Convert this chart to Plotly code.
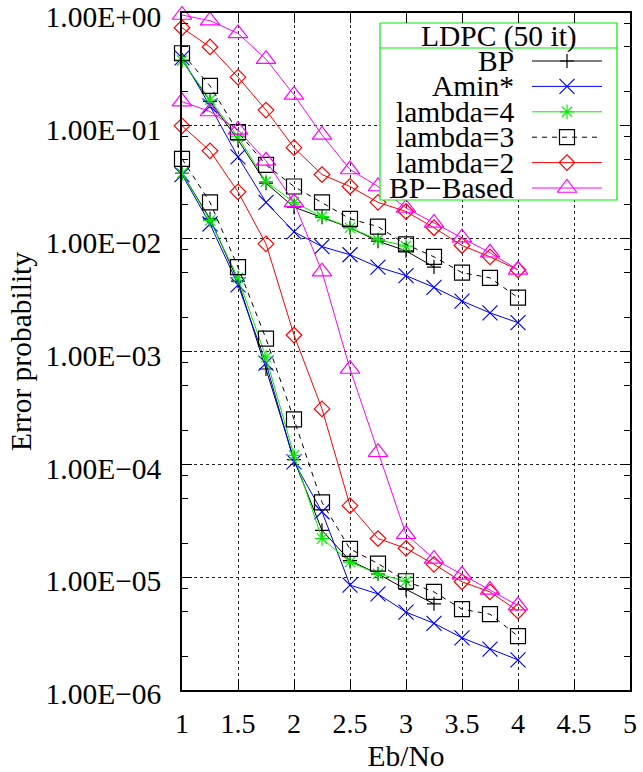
import plotly.graph_objects as go

# ---------------- data ----------------
ebno = [1, 1.25, 1.5, 1.75, 2, 2.25, 2.5, 2.75, 3, 3.25, 3.5, 3.75, 4]

bp_upper = [0.38, 0.165, 0.075, 0.031, 0.019, 0.0155, 0.0125, 0.0095, 0.0078, 0.0056]
bp_lower = [0.038, 0.015, 0.0042, 7.0e-4, 1.1e-4, 2.6e-5, 1.4e-5, 1.07e-5, 7.8e-6, 5.8e-6]

amin_upper = [0.40, 0.15, 0.053, 0.021, 0.0115, 0.0085, 0.0072, 0.0056, 0.0047, 0.0037, 0.0028, 0.0022, 0.0018]
amin_lower = [0.037, 0.0135, 0.0039, 7.9e-4, 1.05e-4, 3.8e-5, 8.5e-6, 7.1e-6, 4.9e-6, 3.9e-6, 2.9e-6, 2.3e-6, 1.85e-6]

l4_upper = [0.38, 0.17, 0.080, 0.032, 0.021, 0.0157, 0.0125, 0.0098, 0.0086]
l4_lower = [0.038, 0.0145, 0.0045, 8.9e-4, 1.2e-4, 2.2e-5, 1.36e-5, 1.07e-5, 9.2e-6]

l3_upper = [0.44, 0.226, 0.088, 0.045, 0.029, 0.021, 0.015, 0.0128, 0.0089, 0.0069, 0.0050, 0.0045, 0.0030]
l3_lower = [0.051, 0.021, 0.0056, 1.3e-3, 2.5e-4, 4.6e-5, 1.78e-5, 1.32e-5, 9.2e-6, 7.4e-6, 5.2e-6, 4.7e-6, 3.0e-6]

l2_upper = [0.74, 0.50, 0.27, 0.138, 0.064, 0.037, 0.029, 0.021, 0.0174, 0.0125, 0.0087, 0.0069, 0.0053]
l2_lower = [0.100, 0.060, 0.026, 0.0090, 0.0014, 3.1e-4, 4.3e-5, 2.2e-5, 1.8e-5, 1.3e-5, 9.1e-6, 7.4e-6, 5.0e-6]

bpb_upper = [0.96, 0.855, 0.66, 0.39, 0.188, 0.083, 0.041, 0.029, 0.0187, 0.0138, 0.0102, 0.0075, 0.0053]
bpb_lower = [0.164, 0.134, 0.092, 0.049, 0.021, 0.0051, 7.0e-4, 1.28e-4, 2.4e-5, 1.45e-5, 1.05e-5, 7.7e-6, 5.6e-6]

series_names = ["BP", "Amin*", "lambda=4", "lambda=3", "lambda=2", "BP\u2212Based"]
legend_title = "LDPC (50 it)"

x_tickvals = [1, 1.5, 2, 2.5, 3, 3.5, 4, 4.5, 5]
x_ticktext = ["1", "1.5", "2", "2.5", "3", "3.5", "4", "4.5", "5"]
y_tickvals = [1, 1e-1, 1e-2, 1e-3, 1e-4, 1e-5, 1e-6]
y_ticktext = ["1.00E+00", "1.00E\u221201", "1.00E\u221202", "1.00E\u221203",
              "1.00E\u221204", "1.00E\u221205", "1.00E\u221206"]
y_minor = [m * 10.0 ** e for e in range(-6, 0) for m in (2, 5, 8)]

x_title = "Eb/No"
y_title = "Error probability"

# ---------------- styles ----------------
FONT = "Liberation Serif, Times New Roman, serif"
styles = [
    dict(color="#000000", dash="solid", symbol="cross-thin-open", size=10),
    dict(color="#0000ff", dash="solid", symbol="x-thin-open", size=15),
    dict(color="#00ee00", dash="solid", symbol="asterisk-open", size=12),
    dict(color="#000000", dash="5px,5px", symbol="square-open", size=15),
    dict(color="#ff0000", dash="solid", symbol="diamond-open", size=12),
    dict(color="#ff00ff", dash="solid", symbol="triangle-up-open", size=17),
]
curves = [
    (bp_upper, bp_lower), (amin_upper, amin_lower), (l4_upper, l4_lower),
    (l3_upper, l3_lower), (l2_upper, l2_lower), (bpb_upper, bpb_lower),
]

# plot area in page pixels
PL, PR, PT, PB = 182, 630, 13, 690
W, H = 643, 772

fig = go.Figure()
for name, (up, lo), st in zip(series_names, curves, styles):
    for ys in (up, lo):
        fig.add_trace(go.Scatter(
            x=ebno[:len(ys)], y=ys, mode="lines+markers", name=name,
            showlegend=False, cliponaxis=False,
            line=dict(color=st["color"], width=1, dash=st["dash"]),
            marker=dict(symbol=st["symbol"], size=st["size"], color=st["color"],
                        line=dict(color=st["color"], width=1.2)),
        ))

# ---------------- custom key (gnuplot style: text left, sample right) ----------------
# overlay axes in pixel-like units of the plot area
KX0, KX1, KY0, KY1 = 380, 617, 23, 200
KSEP = 48
K_ROW0, K_STEP = 61, 25.4
K_TXT_R, K_L0, K_L1 = 516, 532, 602
KFONT = 29.5

fig.add_trace(go.Scatter(
    x=[KX0, KX1, KX1, KX0, KX0], y=[KY0, KY0, KY1, KY1, KY0],
    xaxis="x2", yaxis="y2", mode="lines", fill="toself",
    fillcolor="white", line=dict(color="#00ee00", width=1.2),
    showlegend=False, hoverinfo="skip"))
fig.add_trace(go.Scatter(
    x=[KX0, KX1], y=[KSEP, KSEP], xaxis="x2", yaxis="y2", mode="lines",
    line=dict(color="#00ee00", width=1.2), showlegend=False, hoverinfo="skip"))
for i, (name, st) in enumerate(zip(series_names, styles)):
    yy = K_ROW0 + i * K_STEP
    fig.add_trace(go.Scatter(
        x=[K_L0, K_L1], y=[yy, yy], xaxis="x2", yaxis="y2", mode="lines",
        line=dict(color=st["color"], width=1, dash=st["dash"]),
        showlegend=False, hoverinfo="skip"))
    fig.add_trace(go.Scatter(
        x=[(K_L0 + K_L1) / 2], y=[yy], xaxis="x2", yaxis="y2", mode="markers",
        marker=dict(symbol=st["symbol"], size=st["size"], color=st["color"],
                    line=dict(color=st["color"], width=1.2)),
        showlegend=False, hoverinfo="skip", cliponaxis=False))
    fig.add_annotation(x=K_TXT_R, y=yy, xref="x2", yref="y2", text=name,
                       showarrow=False, xanchor="right", yanchor="middle",
                       font=dict(family=FONT, size=KFONT, color="black"))
fig.add_annotation(x=(KX0 + KX1) / 2, y=(KY0 + KSEP) / 2 + 1, xref="x2", yref="y2",
                   text=legend_title, showarrow=False, xanchor="center", yanchor="middle",
                   font=dict(family=FONT, size=KFONT, color="black"))

fig.update_layout(
    width=W, height=H,
    margin=dict(l=PL, r=W - PR, t=PT, b=H - PB, autoexpand=False),
    paper_bgcolor="white", plot_bgcolor="white",
    font=dict(family=FONT, size=28, color="black"),
    showlegend=False,
    xaxis=dict(
        range=[1, 5], tickmode="array", tickvals=x_tickvals, ticktext=x_ticktext,
        ticks="inside", ticklen=10, tickcolor="black", tickwidth=1,
        mirror="ticks", showline=True, linecolor="black", linewidth=1.5,
        showgrid=True, gridcolor="#222222", griddash="dot", gridwidth=1,
        zeroline=False, tickfont=dict(size=28), ticklabelstandoff=8,
        ticklabeloverflow="allow", automargin=False,
        title=dict(text=x_title, font=dict(size=29.5), standoff=13),
    ),
    yaxis=dict(
        type="log", range=[-6, 0], tickmode="array", tickvals=y_tickvals,
        ticktext=y_ticktext, ticks="inside", ticklen=10, tickcolor="black",
        mirror="ticks", showline=True, linecolor="black", linewidth=1.5,
        showgrid=True, gridcolor="#222222", griddash="dot", gridwidth=1,
        zeroline=False, tickfont=dict(size=29.5), ticklabelstandoff=13,
        ticklabelshift=4, ticklabeloverflow="allow", automargin=False,
        minor=dict(tickmode="array", tickvals=y_minor, ticks="inside",
                   ticklen=6, tickcolor="black", showgrid=False),
    ),
    xaxis2=dict(overlaying="x", range=[PL, PR], visible=False, fixedrange=True),
    yaxis2=dict(overlaying="y", range=[PB, PT], visible=False, fixedrange=True),
)
# y-axis title, placed in page pixels (centre at x=21, y=352) via paper coordinates
fig.add_annotation(x=(21 - PL) / (PR - PL), y=(PB - 352) / (PB - PT),
                   xref="paper", yref="paper",
                   text=y_title, textangle=-90, showarrow=False,
                   xanchor="center", yanchor="middle",
                   font=dict(family=FONT, size=29.5, color="black"))

fig.write_html("out.html", config={"displayModeBar": False},
               post_script="document.body.style.margin='0px';")
